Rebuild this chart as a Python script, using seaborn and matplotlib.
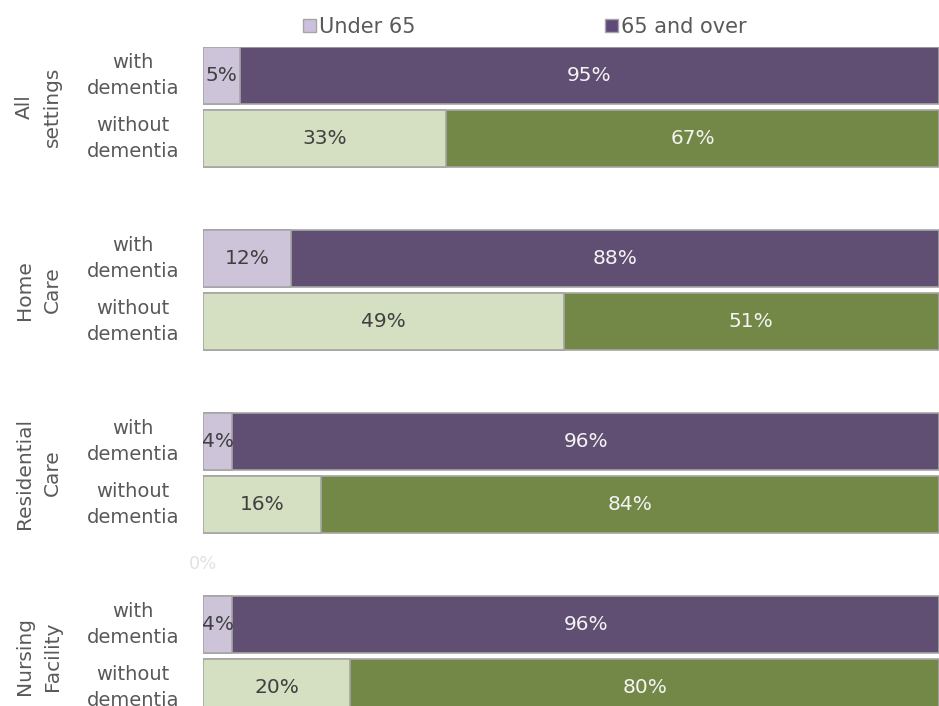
import matplotlib
matplotlib.use("Agg")
import matplotlib.pyplot as plt
from matplotlib.patches import Patch
import seaborn as sns
import pandas as pd

# Share of care recipients by age band, per setting and dementia status (%)
settings = ["All\nsettings", "Home\nCare", "Residential\nCare", "Nursing\nFacility"]
statuses = ["with\ndementia", "without\ndementia"]
under65_with = [5, 12, 4, 4]
over65_with = [95, 88, 96, 96]
under65_without = [33, 49, 16, 20]
over65_without = [67, 51, 84, 80]

sns.set_theme(style="white")
plt.rcParams["font.family"] = ["DejaVu Sans"]

TXT = "#595959"
EDGE = "#a5a5a5"
light = {"with": "#ccc1dd", "without": "#d7e4bd"}
dark = {"with": "#5f4979", "without": "#77933c"}

group_pitch = 2.905
rows = []
for g, s in enumerate(settings):
    for b, (st, u, o) in enumerate([("with", under65_with[g], over65_with[g]),
                                    ("without", under65_without[g], over65_without[g])]):
        rows.append(dict(setting=s, status=st, pos=g * group_pitch + b,
                         under=u, over=o, total=u + o))
df = pd.DataFrame(rows)

fig = plt.figure(figsize=(9.39, 7.06), dpi=100)
ax = fig.add_axes([203 / 939, 0.0, 1 - 203 / 939, 1 - 47 / 706])

# full bar = 65 and over (drawn to the total), under-65 overlaid from zero
sns.barplot(data=df, x="total", y="pos", hue="status", palette=dark, orient="y",
            native_scale=True, dodge=False, width=0.9, edgecolor=EDGE, linewidth=1.2,
            legend=False, ax=ax)
sns.barplot(data=df, x="under", y="pos", hue="status", palette=light, orient="y",
            native_scale=True, dodge=False, width=0.9, edgecolor=EDGE, linewidth=1.2,
            legend=False, ax=ax)

ax.set_xlim(0, 100)
ax.set_ylim(10.008, -0.452)
ax.axis("off")

for _, r in df.iterrows():
    ax.text(r["under"] / 2, r["pos"], f"{r['under']}%", ha="center", va="center",
            fontsize=14.5, color="#404040")
    ax.text(r["under"] + r["over"] / 2, r["pos"], f"{r['over']}%", ha="center",
            va="center", fontsize=14.5, color="#f4f4f4")
    ax.text(-9.5, r["pos"], statuses[0] if r["status"] == "with" else statuses[1],
            ha="center", va="center", fontsize=14, color=TXT, linespacing=1.45,
            multialignment="center", clip_on=False)

for g, s in enumerate(settings):
    ax.text(-22.4, g * group_pitch + 0.5, s, rotation=90, ha="center", va="center",
            fontsize=14.5, color=TXT, linespacing=1.6, multialignment="center",
            clip_on=False)

# faint leftover axis label
ax.text(0, 2 * group_pitch + 1.95, "0%", ha="center", va="center",
        fontsize=13, color="#e2e2e2", clip_on=False)

fig.legend(handles=[Patch(facecolor=light["with"], edgecolor=EDGE, label="Under 65")],
           loc="center left", bbox_to_anchor=(303 / 939, 1 - 27 / 706), frameon=False,
           fontsize=15, labelcolor=TXT, handlelength=0.6, handleheight=0.6,
           handletextpad=0.15, borderaxespad=0, borderpad=0)
fig.legend(handles=[Patch(facecolor=dark["with"], edgecolor=EDGE, label="65 and over")],
           loc="center left", bbox_to_anchor=(605 / 939, 1 - 27 / 706), frameon=False,
           fontsize=15, labelcolor=TXT, handlelength=0.6, handleheight=0.6,
           handletextpad=0.15, borderaxespad=0, borderpad=0)

fig.savefig("out.png", dpi=100)
